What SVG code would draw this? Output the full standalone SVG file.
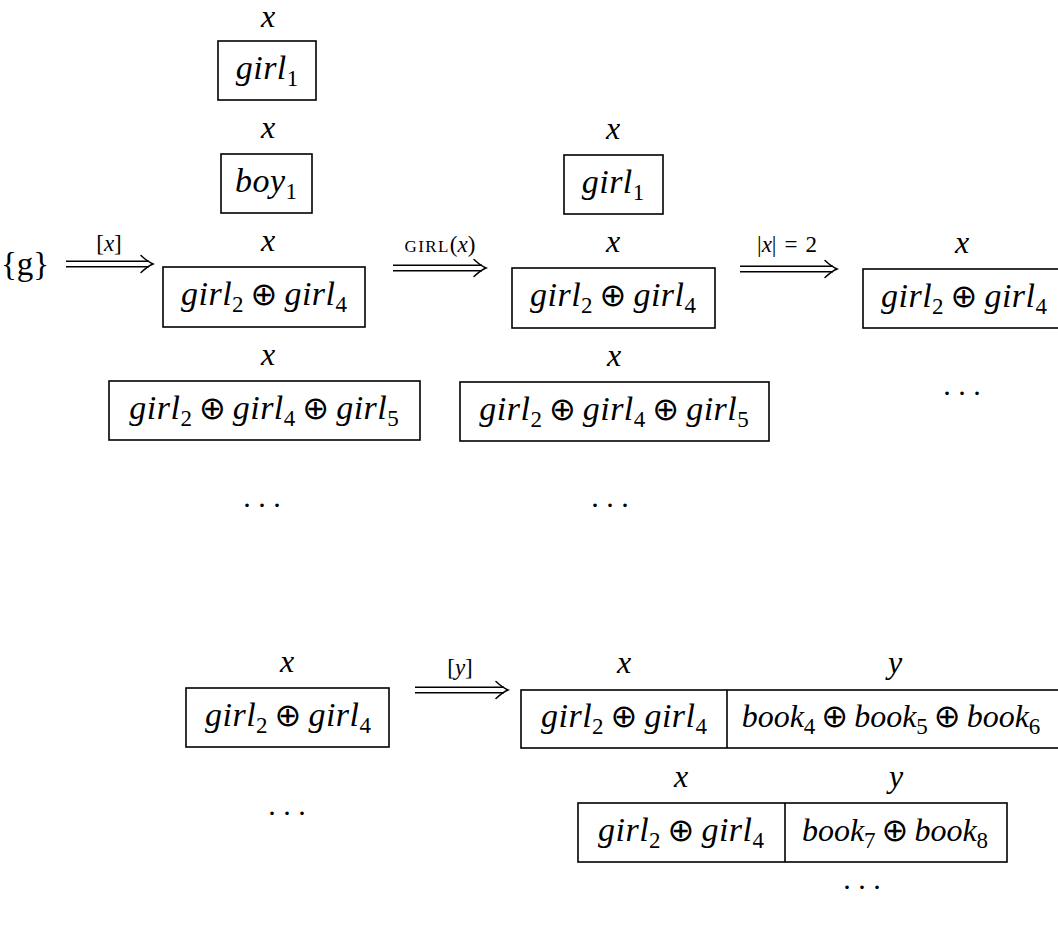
<svg xmlns="http://www.w3.org/2000/svg" xmlns:xlink="http://www.w3.org/1999/xlink" width="1058" height="929" viewBox="0 0 1058 929">
  <style>
    .box { fill: none; stroke: #000; stroke-width: 1.6; }
    .m { font-family: "Liberation Serif", "DejaVu Serif", serif; font-style: italic; font-size: 34px; letter-spacing: 0.5px; fill: #000; text-anchor: middle; }
    .bk { font-size: 32px; letter-spacing: 0; }
    .sb { font-style: normal; font-size: 23px; letter-spacing: 0; }
    .op { font-family: "DejaVu Sans", sans-serif; font-style: normal; font-size: 32px; letter-spacing: 0; }
    .lbl { font-family: "Liberation Serif", "DejaVu Serif", serif; font-style: italic; font-size: 32px; fill: #000; text-anchor: middle; }
    .up { font-family: "Liberation Serif", "DejaVu Serif", serif; font-size: 33px; fill: #000; }
    .small { font-family: "Liberation Serif", "DejaVu Serif", serif; font-size: 23px; fill: #000; text-anchor: middle; }
    .sc { font-size: 17px; letter-spacing: 1.4px; }
    .it { font-style: italic; }
    .dots { font-family: "Liberation Serif", serif; font-size: 30px; fill: #000; text-anchor: middle; }
    .shaft { stroke: #000; stroke-width: 1.4; fill: none; }
  </style>
  <defs>
    <!-- open double-arrow head, tip at origin -->
    <path id="dhead" d="M -12 -8.5 Q -5 -2 0 0 Q -5 2 -12 8.5" fill="none" stroke="#000" stroke-width="1.5" stroke-linecap="round"/>
  </defs>
  <rect width="1058" height="929" fill="#fff"/>

  <!-- start symbol -->
  <g id="start">
    <text class="up" x="1" y="275">{g}</text>
  </g>

  <!-- column 1 -->
  <g id="c1-girl1">
    <text class="lbl" x="268" y="27">x</text>
    <rect class="box" x="218" y="41" width="98" height="59"/>
    <text class="m" x="267" y="79">girl<tspan class="sb" dy="7">1</tspan></text>
  </g>
  <g id="c1-boy1">
    <text class="lbl" x="268" y="138">x</text>
    <rect class="box" x="221" y="154" width="91" height="59"/>
    <text class="m" x="266" y="192">boy<tspan class="sb" dy="7">1</tspan></text>
  </g>
  <g id="c1-g24">
    <text class="lbl" x="268" y="251">x</text>
    <rect class="box" x="163" y="267" width="202" height="60"/>
    <text class="m" x="264" y="305">girl<tspan class="sb" dy="7">2</tspan><tspan class="op" dy="-7" dx="7">⊕</tspan><tspan dx="7">girl</tspan><tspan class="sb" dy="7">4</tspan></text>
  </g>
  <g id="c1-g245">
    <text class="lbl" x="268" y="365">x</text>
    <rect class="box" x="109" y="381" width="311" height="59"/>
    <text class="m" x="264" y="419">girl<tspan class="sb" dy="7">2</tspan><tspan class="op" dy="-7" dx="7">⊕</tspan><tspan dx="7">girl</tspan><tspan class="sb" dy="7">4</tspan><tspan class="op" dy="-7" dx="7">⊕</tspan><tspan dx="7">girl</tspan><tspan class="sb" dy="7">5</tspan></text>
  </g>
  <text class="dots" x="262" y="507">. . .</text>

  <!-- column 2 -->
  <g id="c2-girl1">
    <text class="lbl" x="613" y="139">x</text>
    <rect class="box" x="564" y="155" width="99" height="59"/>
    <text class="m" x="613" y="193">girl<tspan class="sb" dy="7">1</tspan></text>
  </g>
  <g id="c2-g24">
    <text class="lbl" x="613" y="252">x</text>
    <rect class="box" x="512" y="268" width="203" height="60"/>
    <text class="m" x="613" y="306">girl<tspan class="sb" dy="7">2</tspan><tspan class="op" dy="-7" dx="7">⊕</tspan><tspan dx="7">girl</tspan><tspan class="sb" dy="7">4</tspan></text>
  </g>
  <g id="c2-g245">
    <text class="lbl" x="614" y="366">x</text>
    <rect class="box" x="460" y="382" width="309" height="59"/>
    <text class="m" x="614" y="420">girl<tspan class="sb" dy="7">2</tspan><tspan class="op" dy="-7" dx="7">⊕</tspan><tspan dx="7">girl</tspan><tspan class="sb" dy="7">4</tspan><tspan class="op" dy="-7" dx="7">⊕</tspan><tspan dx="7">girl</tspan><tspan class="sb" dy="7">5</tspan></text>
  </g>
  <text class="dots" x="610" y="507">. . .</text>

  <!-- column 3 -->
  <g id="c3-g24">
    <text class="lbl" x="962" y="253">x</text>
    <rect class="box" x="863" y="269" width="203" height="59"/>
    <text class="m" x="964" y="307">girl<tspan class="sb" dy="7">2</tspan><tspan class="op" dy="-7" dx="7">⊕</tspan><tspan dx="7">girl</tspan><tspan class="sb" dy="7">4</tspan></text>
  </g>
  <text class="dots" x="962" y="395">. . .</text>

  <!-- lower row -->
  <g id="d-g24">
    <text class="lbl" x="287" y="672">x</text>
    <rect class="box" x="186" y="688" width="203" height="59"/>
    <text class="m" x="288" y="726">girl<tspan class="sb" dy="7">2</tspan><tspan class="op" dy="-7" dx="7">⊕</tspan><tspan dx="7">girl</tspan><tspan class="sb" dy="7">4</tspan></text>
  </g>
  <text class="dots" x="287" y="815">. . .</text>

  <g id="e-row1">
    <text class="lbl" x="624" y="673">x</text>
    <text class="lbl" x="895" y="673">y</text>
    <rect class="box" x="521" y="690" width="542" height="58"/>
    <line class="box" x1="727" y1="690" x2="727" y2="748"/>
    <text class="m" x="624" y="727">girl<tspan class="sb" dy="7">2</tspan><tspan class="op" dy="-7" dx="7">⊕</tspan><tspan dx="7">girl</tspan><tspan class="sb" dy="7">4</tspan></text>
    <text class="m bk" x="891" y="727">book<tspan class="sb" dy="7">4</tspan><tspan class="op" dy="-7" dx="6">⊕</tspan><tspan dx="6">book</tspan><tspan class="sb" dy="7">5</tspan><tspan class="op" dy="-7" dx="6">⊕</tspan><tspan dx="6">book</tspan><tspan class="sb" dy="7">6</tspan></text>
  </g>
  <g id="e-row2">
    <text class="lbl" x="681" y="787">x</text>
    <text class="lbl" x="896" y="787">y</text>
    <rect class="box" x="578" y="803" width="429" height="59"/>
    <line class="box" x1="785" y1="803" x2="785" y2="862"/>
    <text class="m" x="681" y="841">girl<tspan class="sb" dy="7">2</tspan><tspan class="op" dy="-7" dx="7">⊕</tspan><tspan dx="7">girl</tspan><tspan class="sb" dy="7">4</tspan></text>
    <text class="m bk" x="895" y="841">book<tspan class="sb" dy="7">7</tspan><tspan class="op" dy="-7" dx="6">⊕</tspan><tspan dx="6">book</tspan><tspan class="sb" dy="7">8</tspan></text>
  </g>
  <text class="dots" x="862" y="889">. . .</text>

  <!-- transitions -->
  <g id="connectors">
    <g id="t1">
      <line class="shaft" x1="66" y1="261.2" x2="149" y2="261.2"/>
      <line class="shaft" x1="66" y1="266.8" x2="149" y2="266.8"/>
      <use xlink:href="#dhead" x="153" y="264"/>
      <text class="small" x="109" y="251">[<tspan class="it">x</tspan>]</text>
    </g>
    <g id="t2">
      <line class="shaft" x1="393" y1="265.2" x2="482" y2="265.2"/>
      <line class="shaft" x1="393" y1="270.8" x2="482" y2="270.8"/>
      <use xlink:href="#dhead" x="486" y="268"/>
      <text class="small" x="440" y="252"><tspan class="sc">GIRL</tspan>(<tspan class="it">x</tspan>)</text>
    </g>
    <g id="t3">
      <line class="shaft" x1="740" y1="266.2" x2="833" y2="266.2"/>
      <line class="shaft" x1="740" y1="271.8" x2="833" y2="271.8"/>
      <use xlink:href="#dhead" x="837" y="269"/>
      <text class="small" x="787" y="252">|<tspan class="it">x</tspan>|<tspan dx="8">=</tspan><tspan dx="8">2</tspan></text>
    </g>
    <g id="t4">
      <line class="shaft" x1="415" y1="687.2" x2="504" y2="687.2"/>
      <line class="shaft" x1="415" y1="692.8" x2="504" y2="692.8"/>
      <use xlink:href="#dhead" x="508" y="690"/>
      <text class="small" x="460" y="675">[<tspan class="it">y</tspan>]</text>
    </g>
  </g>
</svg>
